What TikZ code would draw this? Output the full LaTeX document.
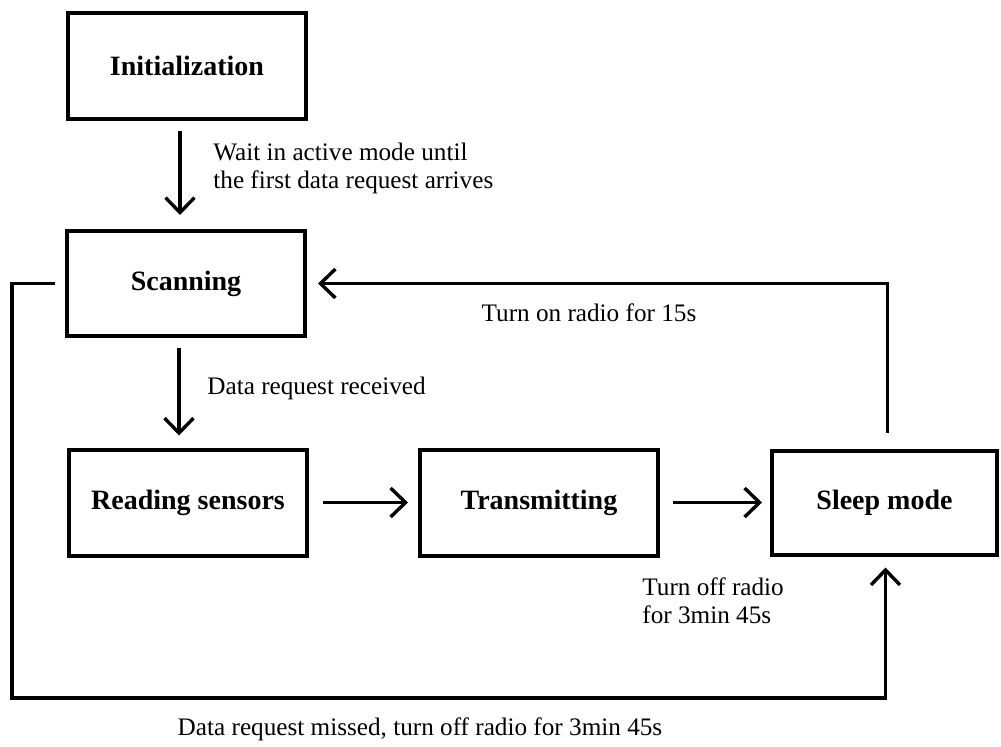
\documentclass[tikz,border=0pt]{standalone}
\usepackage{fontspec}
\setmainfont{Liberation Serif}
\usetikzlibrary{arrows.meta}

\tikzset{
    state/.style={draw, line width=2pt, minimum width=119pt, minimum height=53pt,
        inner sep=0pt, font=\fontsize{14}{16}\selectfont\bfseries},
    flow/.style={line width=1.7pt, -{Straight Barb[length=7.5pt,width=14.5pt,line width=1.7pt]},
        shorten <=5pt, shorten >=6pt},
    note/.style={font=\fontsize{12.6}{14.2}\selectfont, inner sep=0pt, align=left}
}

\begin{document}
\begin{tikzpicture}[x=0.5pt,y=-0.5pt]
    \useasboundingbox (0,0) rectangle (1001,746);

    % states
    \node[state] (init) at (187,66) {Initialization};
    \node[state, minimum height=52.5pt] (scan) at (186,283.5) {Scanning};
    \node[state] (read) at (188,502.5) {Reading sensors};
    \node[state] (trans) at (539,502.5) {Transmitting};
    \node[state, minimum width=112.5pt, minimum height=52pt] (sleep) at (884.5,502.5) {Sleep mode};

    \coordinate (botleft) at (12,698);

    % transitions
    \draw[flow, shorten >=7pt] ([xshift=-3.5pt]init.south) -- ([xshift=-3pt]scan.north);
    \draw[flow] ([xshift=-3.5pt]scan.south) -- ([xshift=-4.5pt]read.north);
    \draw[flow, shorten <=7pt, shorten >=5pt] (read.east) -- (trans.west);
    \draw[flow, shorten <=6.5pt, shorten >=4pt] (trans.east) -- (sleep.west);
    \draw[flow, shorten <=8pt, shorten >=5.5pt] ([xshift=1.5pt]sleep.north) |- (scan.east);
    \draw[flow, shorten >=5.5pt] (scan.west) -| (botleft) -| ([xshift=0.5pt]sleep.south);

    % labels
    \node[note, anchor=west] (lblwait) at (213,168.5) {Wait in active mode until\\the first data request arrives};
    \node[note, anchor=west] (lblrecv) at (207,388) {Data request received};
    \node[note] (lblon) at (589,313) {Turn on radio for 15s};
    \node[note, anchor=west] (lbloff) at (642,601) {Turn off radio\\for 3min 45s};
    \node[note] (lblmiss) at (420,729) {Data request missed, turn off radio for 3min 45s};
\end{tikzpicture}
\end{document}
